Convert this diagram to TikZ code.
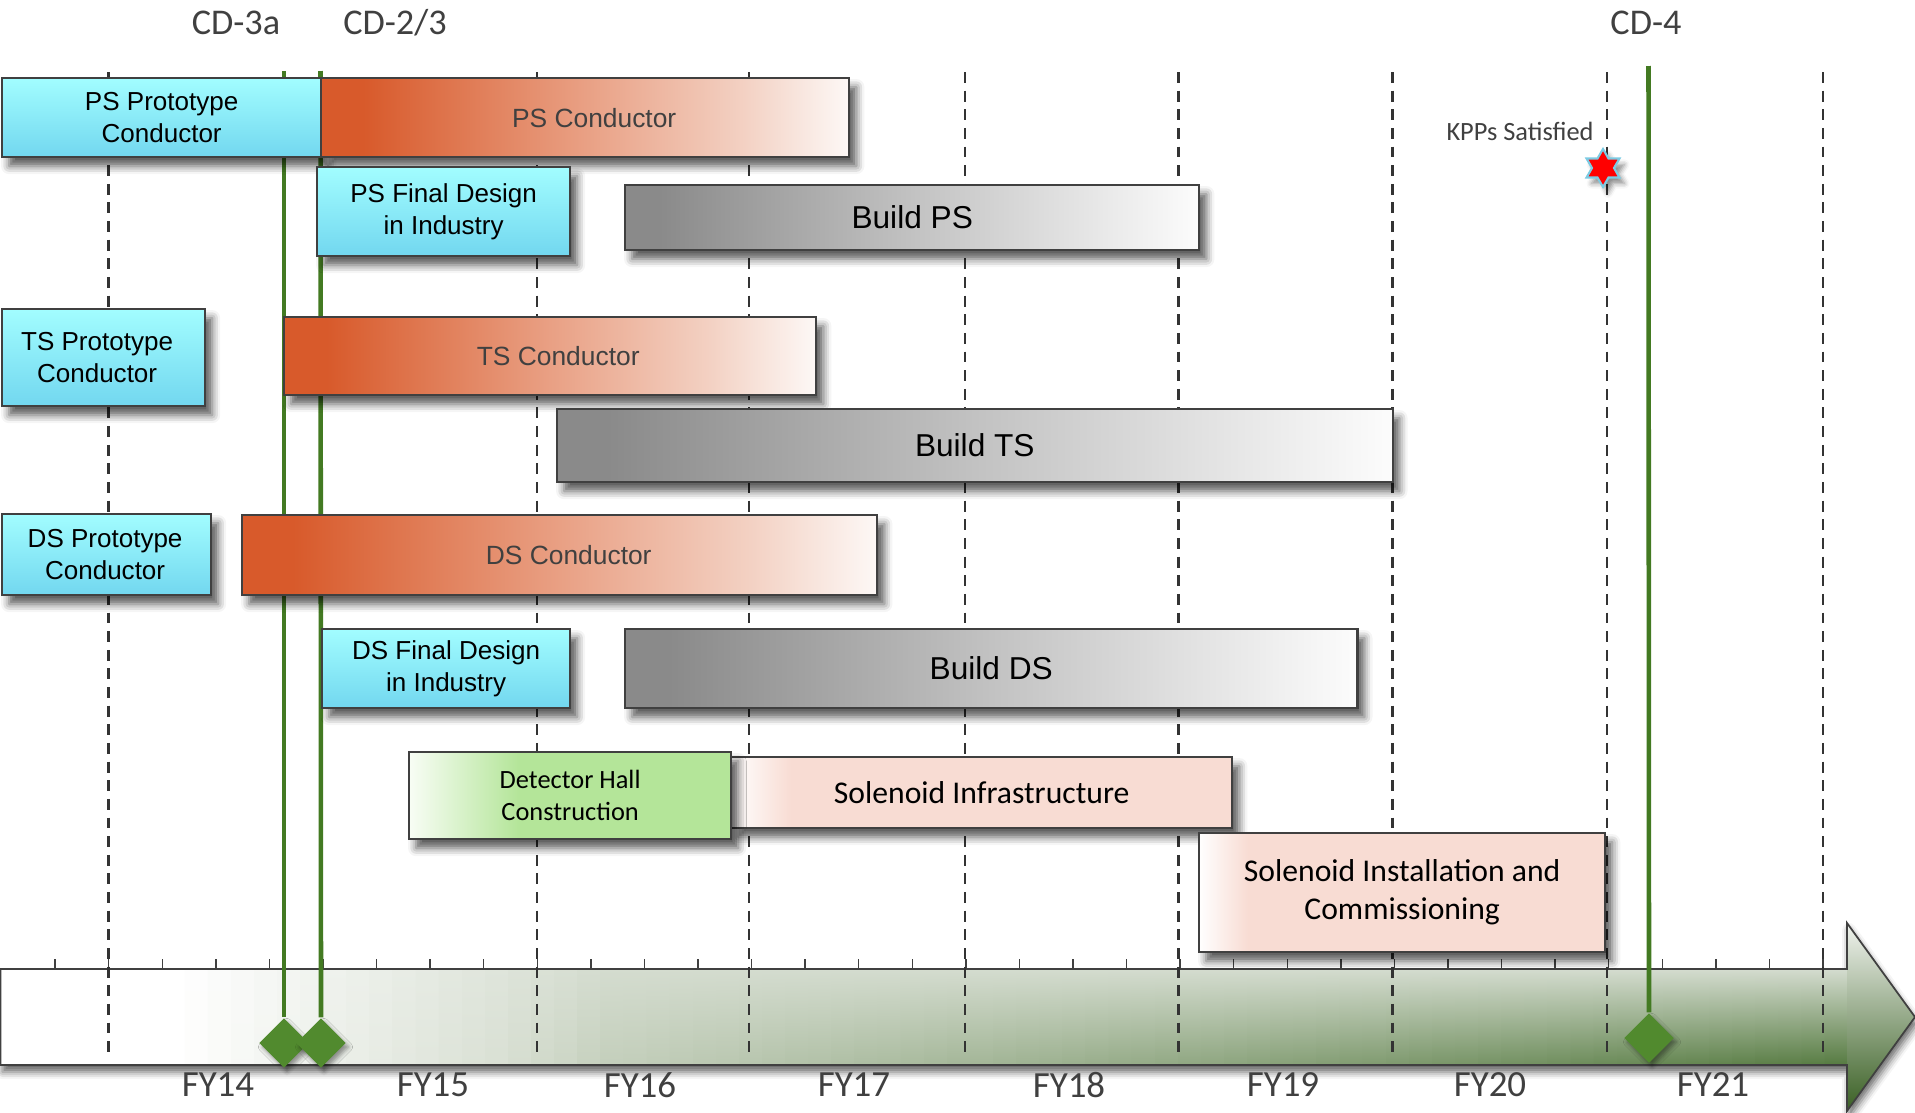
\documentclass[tikz,border=0pt]{standalone}
\usepackage{fontspec}
\setmainfont{Liberation Sans}
\newfontfamily\calibf{Carlito}
\newfontfamily\arialf{Liberation Sans}
\usetikzlibrary{shapes.geometric,shadows.blur}

\definecolor{bordc}{HTML}{404040}
\definecolor{txtg}{HTML}{404040}
\definecolor{cyanT}{HTML}{A2FDFF}
\definecolor{cyanB}{HTML}{72D7EF}
\definecolor{orA}{HTML}{D85A2B}
\definecolor{orM}{HTML}{E9A084}
\definecolor{orN}{HTML}{F3D1C3}
\definecolor{orR}{HTML}{FDF8F6}
\definecolor{grA}{HTML}{8A8A8A}
\definecolor{grM}{HTML}{C2C2C2}
\definecolor{grR}{HTML}{FCFCFC}
\definecolor{lgA}{HTML}{F8FDF5}
\definecolor{lgB}{HTML}{B4E599}
\definecolor{pkA}{HTML}{FFFFFF}
\definecolor{pkB}{HTML}{F8DCD3}
\definecolor{axtop}{HTML}{D4DCCF}
\definecolor{axbotL}{HTML}{CDD6C6}
\definecolor{axbotR}{HTML}{557A40}
\definecolor{headT}{HTML}{F0F3EE}
\definecolor{headB}{HTML}{3A6024}
\definecolor{gline}{HTML}{437A22}
\definecolor{dgreen}{HTML}{518A2E}
\definecolor{dashc}{HTML}{333333}
\definecolor{starblue}{HTML}{7CCBE3}

\pgfdeclarehorizontalshading{orangesh}{100bp}{color(0bp)=(orA); color(29bp)=(orA); color(50bp)=(orM); color(65bp)=(orN); color(75bp)=(orR); color(100bp)=(orR)}
\pgfdeclarehorizontalshading{graysh}{100bp}{color(0bp)=(grA); color(28bp)=(grA); color(50bp)=(grM); color(75bp)=(grR); color(100bp)=(grR)}
\pgfdeclarehorizontalshading{greensh}{100bp}{color(0bp)=(lgA); color(25bp)=(lgA); color(42bp)=(lgB); color(100bp)=(lgB)}
\pgfdeclarehorizontalshading{pinksh}{100bp}{color(0bp)=(pkA); color(25bp)=(pkA); color(31bp)=(pkB); color(100bp)=(pkB)}

\tikzset{
  every node/.style={inner sep=0pt},
  boxbase/.style={draw=bordc, line width=0.6pt, rectangle, anchor=north west, align=center,
    blur shadow={shadow xshift=0.07cm, shadow yshift=-0.09cm, shadow blur radius=0.08cm, shadow opacity=65}},
  cyanbox/.style={boxbase, top color=cyanT, bottom color=cyanB, font=\arialf\fontsize{7.4}{9.1}\selectfont, text=black},
  orbox/.style={boxbase, shade, shading=orangesh, font=\arialf\fontsize{7.5}{9}\selectfont, text=txtg},
  graybox/.style={boxbase, shade, shading=graysh, font=\arialf\fontsize{9}{11}\selectfont, text=black},
  grbox/.style={boxbase, shade, shading=greensh, font=\calibf\fontsize{7.5}{9}\selectfont, text=black},
  pkbox/.style={boxbase, shade, shading=pinksh, font=\calibf\fontsize{9}{10.8}\selectfont, text=black},
  cdlab/.style={font=\calibf\fontsize{10.3}{12}\selectfont, text=txtg},
  fylab/.style={font=\calibf\fontsize{10.5}{12}\selectfont, text=txtg},
  dashline/.style={dashc, line width=0.75pt, dash pattern=on 3.1pt off 2.2pt},
  gl/.style={gline, line width=1.3pt},
  msdiamond/.style={diamond, fill=dgreen, minimum width=0.50cm, minimum height=0.50cm,
    blur shadow={shadow xshift=0.03cm, shadow yshift=-0.04cm, shadow blur radius=0.04cm, shadow opacity=40}},
}

\begin{document}
\begin{tikzpicture}[x=0.01cm, y=-0.01cm]
\useasboundingbox (0,0) rectangle (1915,1112);

% ---- time axis arrow ----
\path[fill=white, blur shadow={shadow xshift=0.02cm, shadow yshift=-0.07cm, shadow blur radius=0.07cm, shadow opacity=60}]
  (0.5,969) -- (1847,969) -- (1847,923) -- (1915,1017) -- (1847,1111) -- (1847,1065) -- (0.5,1065) -- cycle;
\foreach \i in {0,...,79} {
  \pgfmathsetmacro\xa{\i*23.1}
  \pgfmathsetmacro\xb{min(\xa+24,1847)}
  \pgfmathtruncatemacro\A{100*min(1,max(0,(\xa+11-170)/430))}
  \pgfmathtruncatemacro\B{100*min(1,max(0,(\xa+11-500)/1347))}
  \colorlet{bbz}{axbotR!\B!axbotL}
  \colorlet{ttz}{axtop!\A!white}
  \colorlet{bbx}{bbz!\A!white}
  \shade[top color=ttz, bottom color=bbx] (\xa,969) rectangle (\xb,1065);
}
\shade[top color=headT, bottom color=headB] (1847,923) -- (1915,1017) -- (1847,1111) -- cycle;
\draw[bordc, line width=0.5pt]
  (0.5,969) -- (1847,969) -- (1847,923) -- (1915,1017) -- (1847,1111) -- (1847,1065) -- (0.5,1065) -- cycle;
\foreach \k in {-1,...,32} \draw[bordc, line width=0.4pt] ({108.7+53.57*\k},959) -- ++(0,10);

% ---- year dividers ----
\foreach \x in {108.7,537,749,965,1178.6,1392.5,1607,1823} \draw[dashline] (\x,72) -- (\x,1053);

% ---- milestones ----
\node[msdiamond] (d1) at (284,1043) {};
\node[msdiamond] (d2) at (321,1043) {};
\node[msdiamond] (d3) at (1649,1038) {};
\coordinate (t1) at (284,71);
\coordinate (t2) at (320.5,71);
\coordinate (t3) at (1648.5,66);
\draw[gl] (t1) -- (d1.north);
\draw[gl] (t2) -- (d2.north);
\draw[gl] (t3) -- (d3.north);

\node[cdlab] (cd3a) at (236,23) {CD-3a};
\node[cdlab] (cd23) at (395,23) {CD-2/3};
\node[cdlab] (cd4) at (1646,23) {CD-4};

% ---- tasks ----
\node[cyanbox, minimum width=3.19cm, minimum height=0.79cm] (psproto) at (1,77) {PS Prototype\\Conductor};
\node[orbox, minimum width=5.28cm, minimum height=0.79cm] (pscond) at (320,77) {\hspace*{0.18cm}PS Conductor};
\node[cyanbox, minimum width=2.53cm, minimum height=0.89cm] (psfinal) at (316,166) {PS Final Design\\in Industry};
\node[graybox, minimum width=5.74cm, minimum height=0.65cm] (buildps) at (624,184) {Build PS};

\node[cyanbox, minimum width=2.03cm, minimum height=0.97cm] (tsproto) at (1,308) {TS Prototype\hspace*{0.13cm}\\Conductor\hspace*{0.13cm}};
\node[orbox, minimum width=5.32cm, minimum height=0.78cm] (tscond) at (283,316) {\hspace*{0.16cm}TS Conductor};
\node[graybox, minimum width=8.35cm, minimum height=0.73cm] (buildts) at (556,408) {Build TS};

\node[cyanbox, minimum width=2.09cm, minimum height=0.81cm] (dsproto) at (1,513) {DS Prototype\hspace*{0.03cm}\\Conductor\hspace*{0.03cm}};
\node[orbox, minimum width=6.35cm, minimum height=0.80cm] (dscond) at (241,514) {\hspace*{0.18cm}DS Conductor};
\node[cyanbox, minimum width=2.48cm, minimum height=0.79cm] (dsfinal) at (321,628) {DS Final Design\\in Industry};
\node[graybox, minimum width=7.32cm, minimum height=0.79cm] (buildds) at (624,628) {Build DS};

\node[pkbox, minimum width=5.01cm, minimum height=0.71cm] (solinfra) at (730,756) {Solenoid Infrastructure};
\node[grbox, minimum width=3.22cm, minimum height=0.87cm] (dethall) at (408,751) {Detector Hall\\Construction};
\node[pkbox, minimum width=4.06cm, minimum height=1.19cm] (solinst) at (1198,832) {Solenoid Installation and\\Commissioning};

% ---- KPP star ----
\node[font=\calibf\fontsize{7.5}{9}\selectfont, text=txtg] (kpplab) at (1520,131) {KPPs Satisfied};
\node[star, star points=6, star point ratio=1.73, minimum size=0.38cm, fill=red, draw=starblue, line width=0.6pt,
  blur shadow={shadow xshift=0.05cm, shadow yshift=-0.06cm, shadow blur radius=0.05cm, shadow opacity=45}] (kpp) at (1603,168) {};

% ---- fiscal years ----
\node[fylab] (fy14) at (218,1085) {FY14};
\node[fylab] (fy15) at (433,1085) {FY15};
\node[fylab] (fy16) at (640,1085) {FY16};
\node[fylab] (fy17) at (854,1085) {FY17};
\node[fylab] (fy18) at (1069,1085) {FY18};
\node[fylab] (fy19) at (1283,1085) {FY19};
\node[fylab] (fy20) at (1490,1085) {FY20};
\node[fylab] (fy21) at (1713,1085) {FY21};
\end{tikzpicture}
\end{document}
